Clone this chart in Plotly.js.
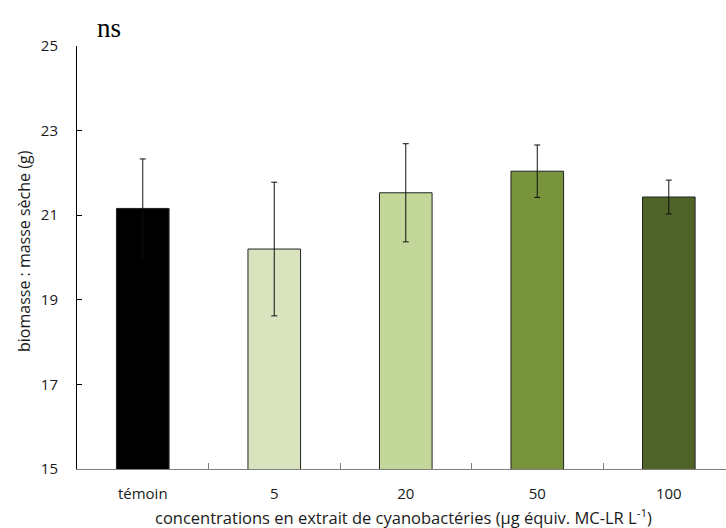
<!DOCTYPE html>
<html>
<head>
<meta charset="utf-8">
<script src="https://cdn.plot.ly/plotly-3.0.1.min.js"></script>
<style>html,body{margin:0;padding:0;background:#fff;}#chart{width:726px;height:528px;}</style>
</head>
<body>
<div id="chart"></div>
<script>
var categories = ["témoin", "5", "20", "50", "100"];
var biomass = [21.16, 20.20, 21.53, 22.04, 21.43];
var errorUp = [1.17, 1.58, 1.16, 0.62, 0.40];
var errorDown = [1.17, 1.58, 1.16, 0.62, 0.40];
var barColors = ["#000000", "#D9E4BF", "#C4D79B", "#77933C", "#4F6228"];
var yTicks = [15, 17, 19, 21, 23, 25];
var xTitle = "concentrations en extrait de cyanobactéries (µg équiv. MC-LR L<sup>-1</sup>)";
var yTitle = "biomasse : masse sèche (g)";

var font = "Open Sans, Lato, sans-serif";
var textColor = "#1a1a1a";

var trace = {
  type: "bar",
  x: categories,
  y: biomass,
  width: 0.4,
  marker: {color: barColors, line: {color: "#222222", width: 1}},
  error_y: {type: "data", array: errorUp, arrayminus: errorDown, visible: true,
            color: "#111111", thickness: 1, width: 3},
  hoverinfo: "none"
};

var layout = {
  width: 726, height: 528,
  margin: {l: 77, r: 0, t: 46, b: 59},
  paper_bgcolor: "#ffffff", plot_bgcolor: "#ffffff",
  showlegend: false,
  font: {family: font, color: textColor, size: 15},
  xaxis: {
    type: "category",
    range: [-0.5, 4.435],
    showline: true, linecolor: "#808080", linewidth: 1,
    ticks: "inside", ticklen: 6, tickcolor: "#808080", tickson: "boundaries",
    showgrid: false, zeroline: false,
    ticklabelstandoff: 11,
    tickfont: {family: font, size: 15, color: textColor}
  },
  yaxis: {
    range: [15, 25],
    tickvals: yTicks, ticktext: yTicks.map(String),
    showline: true, linecolor: "#000000", linewidth: 1,
    ticks: "inside", ticklen: 5, tickcolor: "#000000",
    showgrid: false, zeroline: false,
    ticklabelstandoff: 15,
    tickfont: {family: font, size: 15, color: textColor}
  },
  annotations: [
    {
      text: "ns", xref: "paper", yref: "paper", x: 0.028, y: 1.043,
      xanchor: "left", yanchor: "middle", showarrow: false,
      font: {family: "Liberation Serif, Times New Roman, serif", size: 27, color: "#000000"}
    },
    {
      text: xTitle, xref: "paper", yref: "paper",
      x: (403 - 77) / 649, y: -(517 - 469) / 423,
      xanchor: "center", yanchor: "middle", showarrow: false,
      font: {family: font, size: 16.5, color: textColor}
    },
    {
      text: yTitle, xref: "paper", yref: "paper", textangle: -90,
      x: -(77 - 24) / 649, y: (469 - 251) / 423,
      xanchor: "center", yanchor: "middle", showarrow: false,
      font: {family: font, size: 16, color: textColor}
    }
  ]
};

Plotly.newPlot("chart", [trace], layout, {displayModeBar: false, staticPlot: true});
</script>
</body>
</html>
